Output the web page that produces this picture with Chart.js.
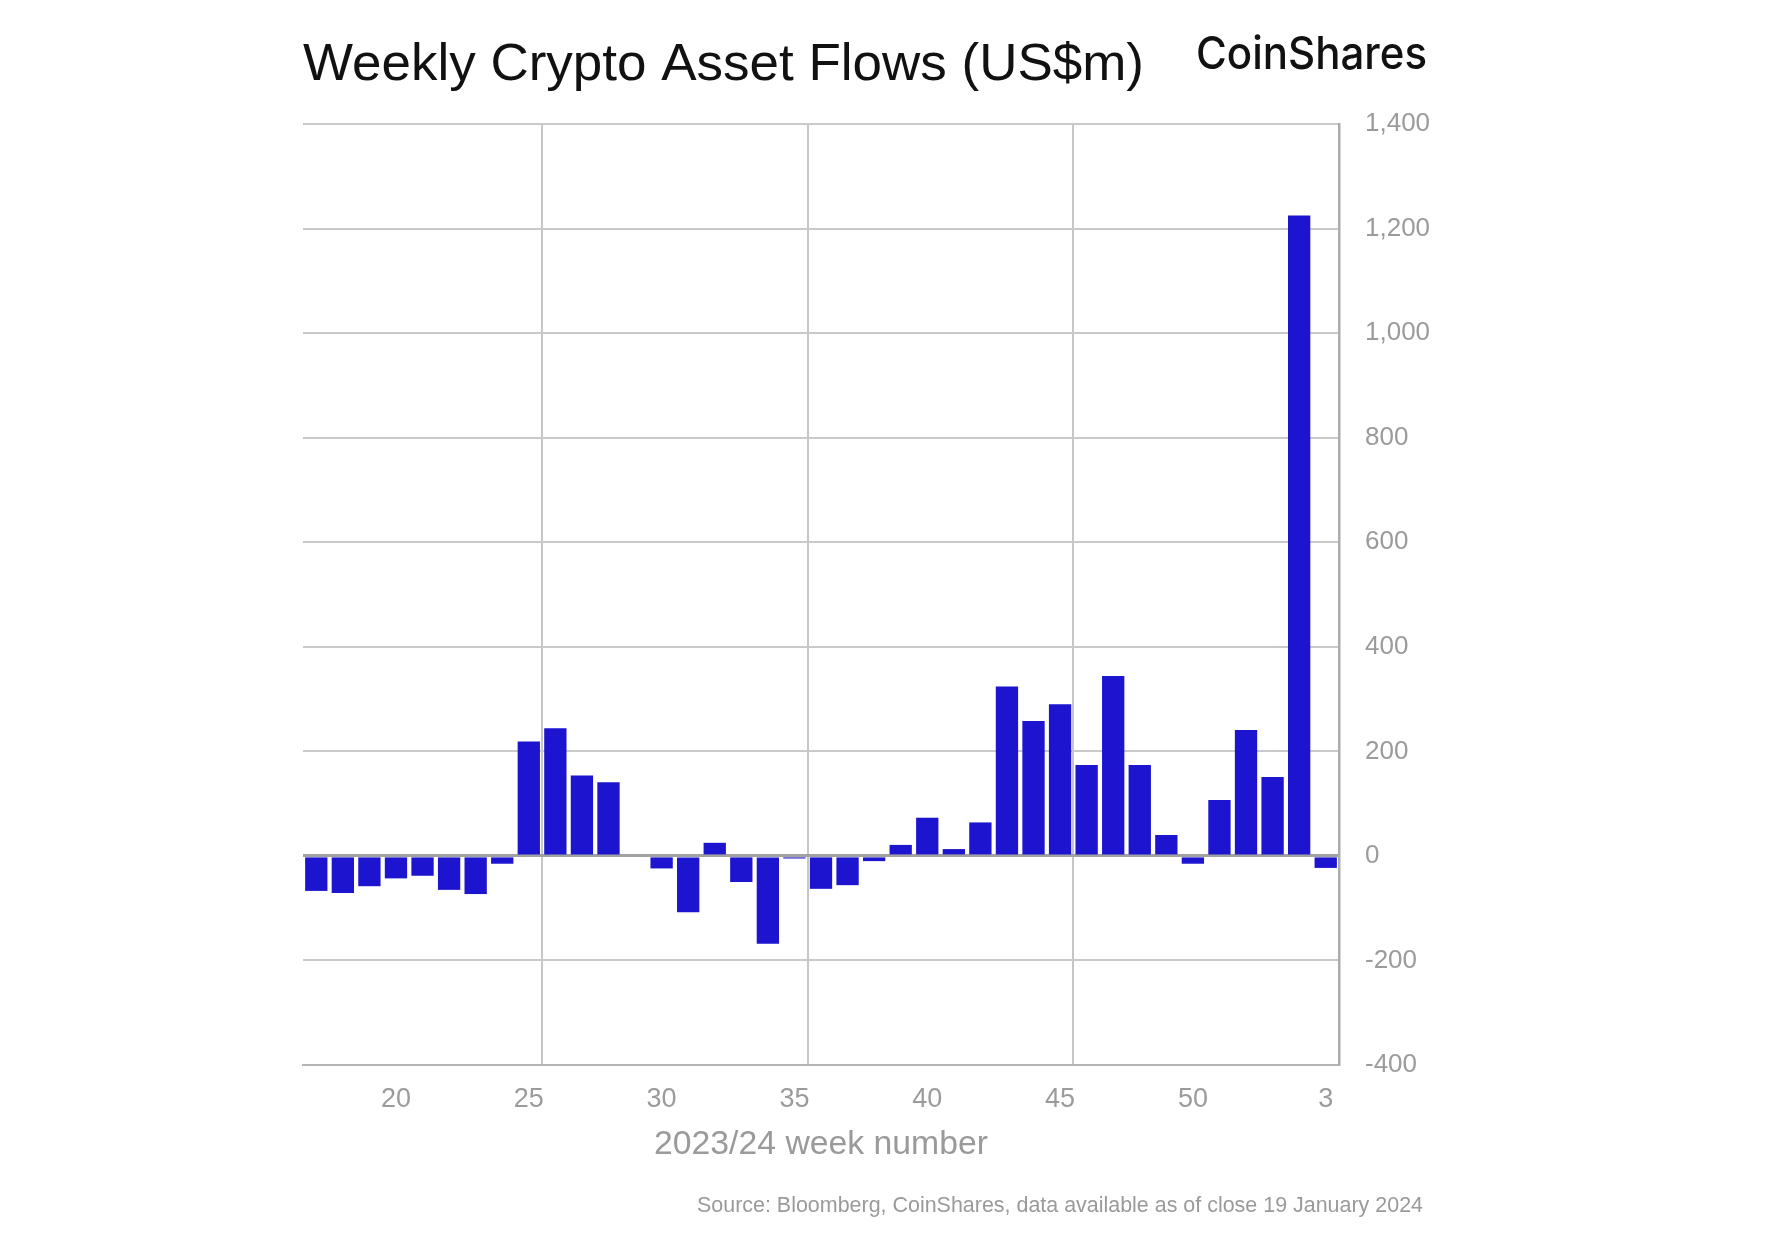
<!DOCTYPE html>
<html>
<head>
<meta charset="utf-8">
<script src="https://cdn.jsdelivr.net/npm/chart.js@4.4.1/dist/chart.umd.min.js"></script>
<style>
  body { margin: 0; background: #fff; }
  #c { display: block; }
</style>
</head>
<body>
<canvas id="c" width="1774" height="1252" style="width:1774px;height:1252px"></canvas>
<script>
// week numbers 2023 (17..52) then 2024 (1..3)
var weeks = ['17','18','19','20','21','22','23','24','25','26','27','28','29','30','31','32','33','34','35',
  '36','37','38','39','40','41','42','43','44','45','46','47','48','49','50','51','52','1','2','3'];

// weekly flows, US$m
var flows = [-67, -71, -58, -43, -38, -65, -73, -15, 219, 244, 154, 141, 0, -24, -108, 25, -50, -168, -5,
  -63, -56, -10, 21, 73, 13, 64, 324, 258, 290, 174, 344, 174, 40, -15, 107, 241, 151, 1225, -23];

// labels shown under the x axis
var shownWeeks = ['20', '25', '30', '35', '40', '45', '50', '3'];
// weeks whose left edge gets a vertical grid line
var gridWeeks = ['26', '36', '46'];

var titulo = 'Weekly Crypto Asset Flows (US$m)';
var fonte = 'Source: Bloomberg, CoinShares, data available as of close 19 January 2024';

// draws text squeezed/stretched to a given width
function fitText(ctx, txt, x, y, w, align) {
  var m = ctx.measureText(txt).width;
  var k = w / m;
  ctx.save();
  ctx.textAlign = 'left';
  ctx.textBaseline = 'alphabetic';
  var x0 = x;
  if (align === 'right') x0 = x - w;
  if (align === 'center') x0 = x - w / 2;
  ctx.translate(x0, y);
  ctx.scale(k, 1);
  ctx.fillText(txt, 0, 0);
  ctx.restore();
}

var textos = {
  id: 'textos',
  afterDraw: function (chart) {
    var ctx = chart.ctx;
    var area = chart.chartArea;
    ctx.save();
    ctx.fillStyle = '#111';
    ctx.font = '52px "Liberation Sans"';
    fitText(ctx, titulo, 303, 80, 841, 'left');

    ctx.font = '500 45px Inter';
    fitText(ctx, 'CoinShares', 1196, 69, 231, 'left');

    ctx.fillStyle = '#9a9a9a';
    ctx.font = '33px "Liberation Sans"';
    fitText(ctx, '2023/24 week number', (area.left + area.right) / 2, 1154, 334, 'center');

    ctx.font = '22px "Liberation Sans"';
    fitText(ctx, fonte, 1423, 1212, 726, 'right');
    ctx.restore();
  }
};

var ctx = document.getElementById('c');
var grafico = new Chart(ctx, {
  type: 'bar',
  data: {
    labels: weeks,
    datasets: [{
      label: 'Flows',
      data: flows,
      backgroundColor: '#1c14cf',
      borderWidth: 0,
      barPercentage: 0.84,
      categoryPercentage: 1
    }]
  },
  options: {
    responsive: false,
    animation: false,
    layout: { padding: { left: 303, top: 124, right: 315, bottom: 87 } },
    plugins: {
      legend: { display: false },
      tooltip: { enabled: false }
    },
    scales: {
      x: {
        afterFit: function (s) { s.height = 100; },
        grid: {
          offset: true,
          drawTicks: false,
          lineWidth: 2,
          color: function (c) {
            if (c.index < weeks.length && gridWeeks.indexOf(weeks[c.index]) >= 0) return '#c6c6c6';
            return 'rgba(0,0,0,0)';
          }
        },
        border: { display: true, color: '#b4b4b4', width: 2 },
        ticks: {
          autoSkip: false,
          maxRotation: 0,
          padding: 18,
          color: '#9b9b9b',
          font: { family: 'Liberation Sans', size: 27 },
          callback: function (v, i) {
            var w = weeks[i];
            return shownWeeks.indexOf(w) >= 0 ? w : '';
          }
        }
      },
      y: {
        position: 'right',
        min: -400,
        max: 1400,
        afterFit: function (s) { s.width = 120; },
        grid: {
          drawTicks: false,
          color: function (c) { return c.tick && c.tick.value === 0 ? '#a2a2a2' : '#c9c9c9'; },
          lineWidth: function (c) { return c.tick && c.tick.value === 0 ? 3 : 2; }
        },
        border: { display: true, color: '#acacac', width: 2.5 },
        ticks: {
          stepSize: 200,
          padding: 26,
          color: '#9b9b9b',
          font: { family: 'Liberation Sans', size: 26 },
          callback: function (v) { return v.toLocaleString('en-US'); }
        }
      }
    }
  },
  plugins: [textos]
});
</script>
</body>
</html>
